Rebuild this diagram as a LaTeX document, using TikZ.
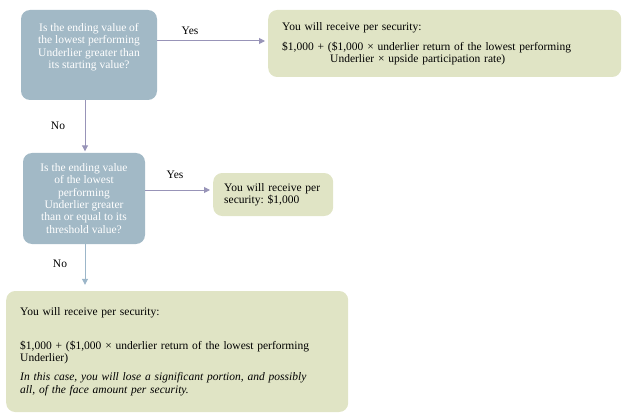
\documentclass[tikz,border=0pt]{standalone}
\usepackage{fontspec}
\setmainfont{Liberation Serif}
\usetikzlibrary{arrows.meta}
\definecolor{qblue}{HTML}{A2B9C6}
\definecolor{agreen}{HTML}{E0E4C5}
\definecolor{arr}{HTML}{9894B8}
\definecolor{arrb}{HTML}{9CB6C9}
\newcommand{\dfont}{\fontsize{11.5}{12.3}\selectfont\frenchspacing}
\begin{document}
\begin{tikzpicture}[x=1pt,y=1pt,
  question/.style={fill=qblue, rounded corners=9pt, text=white, align=center, font=\dfont, inner sep=0pt},
  answer/.style={fill=agreen, rounded corners=9pt, align=left, font=\dfont, inner ysep=0pt, anchor=west},
  conn/.style={draw=arr, line width=1pt, -{Triangle[length=6pt,width=6pt]}},
  connb/.style={conn, draw=arrb},
  lbl/.style={font=\dfont, inner sep=0pt}]
\useasboundingbox (0,0) rectangle (630,416);
\node[question, minimum width=136pt, minimum height=90pt] (q1) at (89,361)
  {Is the ending value of\\the lowest performing\\Underlier greater than\\its starting value?\\[6pt]};
\node[answer, minimum width=353pt, minimum height=67pt, inner xsep=14pt, text width=325pt] (a1) at (268,372.5)
  {You will receive per security:\\[7.7pt]
   \$1,000 + (\$1,000 × underlier return of the lowest performing\\
   \hspace*{48pt}Underlier × upside participation rate)\\[5pt]};
\node[question, minimum width=122pt, minimum height=91pt] (q2) at (84,217.5)
  {Is the ending value\\of the lowest\\performing\\Underlier greater\\than or equal to its\\threshold value?};
\node[answer, minimum width=120pt, minimum height=43pt, inner xsep=11pt, text width=98pt] (a2) at (213,221.5)
  {You will receive per\\security: \$1,000\\[4pt]};
\node[answer, minimum width=342pt, minimum height=121pt, inner xsep=14pt, text width=314pt] (a3) at (6,64.5)
  {You will receive per security:\\[21.7pt]
   \$1,000 + (\$1,000 × underlier return of the lowest performing\\
   Underlier)\\[6.7pt]
   \textit{In this case, you will lose a significant portion, and possibly}\\
   \textit{all, of the face amount per security.}\\[3pt]};
\draw[conn, shorten >=3pt] ([yshift=14pt]q1.east) -- ([yshift=14pt]q1.east -| a1.west);
\node[lbl] (y1) at (190,385) {Yes};
\draw[conn, shorten >=1.5pt] (q1.south -| 85,0) -- (q2.north -| 85,0);
\node[lbl] (n1) at (58,290) {No};
\draw[conn, shorten >=3pt] ([yshift=8.5pt]q2.east) -- ([yshift=8.5pt]q2.east -| a2.west);
\node[lbl] (y2) at (175,241) {Yes};
\draw[connb, shorten >=6pt] (q2.south -| 85,0) -- (a3.north -| 85,0);
\node[lbl] (n2) at (60,152) {No};
\end{tikzpicture}
\end{document}
